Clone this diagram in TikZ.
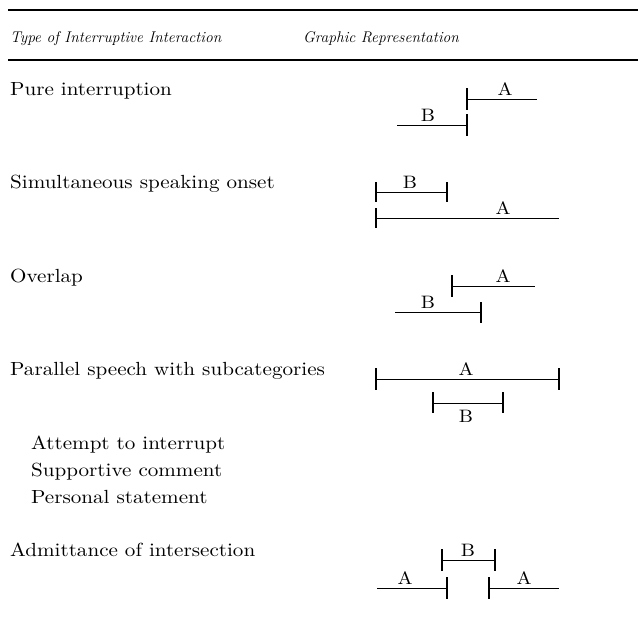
\documentclass[tikz,border=0pt]{standalone}
\usepackage{fontspec}
\usepackage{tikz}
\usetikzlibrary{positioning}
\newfontfamily\bodyfont{lmroman10}[Extension=.otf,UprightFont=*-regular,FakeStretch=1.11]

\begin{document}
\begin{tikzpicture}[x=1pt,y=-1pt,
  turn/.style={line width=1pt},
  bar/.style={line width=2.4pt},
  rule/.style={line width=1.4pt},
  lbl/.style={anchor=base,inner sep=0pt,font=\bodyfont\fontsize{18}{21}\selectfont},
  row/.style={anchor=base west,inner sep=0pt,font=\bodyfont\fontsize{19}{22}\selectfont},
  head/.style={anchor=base west,inner sep=0pt,font=\fontsize{15.5}{18}\selectfont\itshape}]
\useasboundingbox (0,0) rectangle (638,622);
% rules and heading
\draw[rule] (8,10) -- (638,10);
\draw[rule] (8,60) -- (638,60);
\node[head] (h1) at (10,42) {Type of Interruptive Interaction};
\node[head] (h2) at (303,42) {Graphic Representation};
% row labels
\node[row] (t1) at (10,95) {Pure interruption};
\node[row] (t2) at (10,188) {Simultaneous speaking onset};
\node[row] (t3) at (10,282) {Overlap};
\node[row] (t4) at (10,375) {Parallel speech with subcategories};
\node[row] (s1) at (31,449) {Attempt to interrupt};
\node[row] (s2) at (31,476) {Supportive comment};
\node[row] (s3) at (31,503) {Personal statement};
\node[row] (t5) at (10,556) {Admittance of intersection};
% pure interruption
\coordinate (a1s) at (467,99); \coordinate (a1e) at (537,99);
\coordinate (b1s) at (397,125); \coordinate (b1e) at (467,125);
\draw[turn] (a1s) -- (a1e);
\draw[turn] (b1s) -- (b1e);
\draw[bar] (a1s) ++(0,-11) -- ++(0,22);
\draw[bar] (b1e) ++(0,-11) -- ++(0,22);
\node[lbl] (a1) at (505,95) {A};
\node[lbl] (b1) at (428,121) {B};
% simultaneous onset
\coordinate (b2s) at (376,192); \coordinate (b2e) at (447,192);
\coordinate (a2s) at (376,218); \coordinate (a2e) at (559,218);
\draw[turn] (b2s) -- (b2e);
\draw[turn] (a2s) -- (a2e);
\draw[bar] (b2s) ++(0,-10) -- ++(0,20);
\draw[bar] (b2e) ++(0,-10) -- ++(0,20);
\draw[bar] (a2s) ++(0,-10) -- ++(0,20);
\node[lbl] (b2) at (410,188) {B};
\node[lbl] (a2) at (503,214) {A};
% overlap
\coordinate (a3s) at (452,286); \coordinate (a3e) at (535,286);
\coordinate (b3s) at (395,312); \coordinate (b3e) at (481,312);
\draw[turn] (a3s) -- (a3e);
\draw[turn] (b3s) -- (b3e);
\draw[bar] (a3s) ++(0,-11) -- ++(0,22);
\draw[bar] (b3e) ++(0,-10) -- ++(0,21);
\node[lbl] (a3) at (503,282) {A};
\node[lbl] (b3) at (428,308) {B};
% parallel speech
\coordinate (a4s) at (376,379); \coordinate (a4e) at (559,379);
\coordinate (b4s) at (433,403); \coordinate (b4e) at (503,403);
\draw[turn] (a4s) -- (a4e);
\draw[turn] (b4s) -- (b4e);
\draw[bar] (a4s) ++(0,-11) -- ++(0,22);
\draw[bar] (a4e) ++(0,-11) -- ++(0,22);
\draw[bar] (b4s) ++(0,-11) -- ++(0,21);
\draw[bar] (b4e) ++(0,-11) -- ++(0,21);
\node[lbl] (a4) at (466,375) {A};
\node[lbl] (b4) at (466,422) {B};
% admittance
\coordinate (b5s) at (442,560); \coordinate (b5e) at (495,560);
\coordinate (a5s) at (377,588); \coordinate (a5e) at (447,588);
\coordinate (a6s) at (489,588); \coordinate (a6e) at (559,588);
\draw[turn] (b5s) -- (b5e);
\draw[turn] (a5s) -- (a5e);
\draw[turn] (a6s) -- (a6e);
\draw[bar] (b5s) ++(0,-11) -- ++(0,22);
\draw[bar] (b5e) ++(0,-11) -- ++(0,22);
\draw[bar] (a5e) ++(0,-11) -- ++(0,22);
\draw[bar] (a6s) ++(0,-11) -- ++(0,22);
\node[lbl] (b5) at (468,556) {B};
\node[lbl] (a5) at (405,584) {A};
\node[lbl] (a6) at (524,584) {A};
\end{tikzpicture}
\end{document}
